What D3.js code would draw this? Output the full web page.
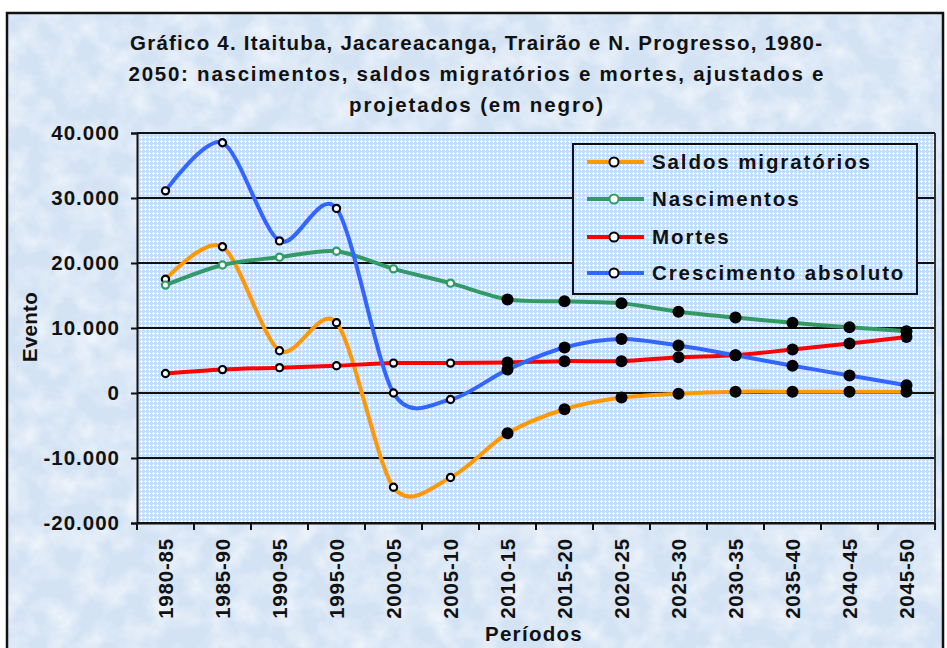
<!DOCTYPE html>
<html><head><meta charset="utf-8">
<script src="https://cdn.jsdelivr.net/npm/d3@7"></script>
<style>
html,body{margin:0;padding:0;background:#fff;}
svg{display:block;font-family:"Liberation Sans",Arial,sans-serif;}
</style></head>
<body><svg id="c" width="947" height="648"></svg>
<script>
// ---- data ----
const periods = ["1980-85","1985-90","1990-95","1995-00","2000-05","2005-10","2010-15","2015-20","2020-25","2025-30","2030-35","2035-40","2040-45","2045-50"];
const saldos = [17500,22500,6500,10800,-14500,-13000,-6200,-2500,-700,-100,200,200,200,200];
const nascimentos = [16600,19700,20900,21800,19100,16900,14400,14100,13800,12500,11600,10800,10100,9500];
const mortes = [3000,3600,3900,4200,4600,4600,4700,4900,4900,5500,5800,6700,7600,8600];
const crescimento = [31100,38500,23400,28400,0,-1000,3600,7000,8300,7300,5800,4200,2700,1200];
const firstProjected = "2010-15";
const yTicks = [-20000,-10000,0,10000,20000,30000,40000];
const titleLines = ["Gráfico 4. Itaituba, Jacareacanga, Trairão e N. Progresso, 1980-",
                    "2050: nascimentos, saldos migratórios e mortes, ajustados e",
                    "projetados (em negro)"];
const seriesNames = ["Saldos migratórios","Nascimentos","Mortes","Crescimento absoluto"];
const seriesValues = [saldos, nascimentos, mortes, crescimento];
const seriesColors = ["#ff9900","#339966","#ff0000","#3366ff"];
const markerStroke = ["#000","#339966","#000","#000"];

const svg = d3.select("#c");
const defs = svg.append("defs");

// background texture
const f = defs.append("filter").attr("id","tex").attr("x",0).attr("y",0).attr("width","100%").attr("height","100%");
f.append("feTurbulence").attr("type","fractalNoise").attr("baseFrequency","0.04").attr("numOctaves",4).attr("seed",7);
f.append("feColorMatrix").attr("type","matrix")
 .attr("values","0 0 0 0 1  0 0 0 0 1  0 0 0 0 1  1.2 0 0 0 -0.45");
f.append("feComposite").attr("in2","SourceGraphic").attr("operator","in");

// plot pattern
const pat = defs.append("pattern").attr("id","grid").attr("width",4).attr("height",4).attr("patternUnits","userSpaceOnUse");
pat.append("rect").attr("width",4).attr("height",4).attr("fill","#c2ddfa");
pat.append("rect").attr("x",0).attr("y",1).attr("width",3).attr("height",1).attr("fill","#f6faff");
pat.append("rect").attr("x",1).attr("y",0).attr("width",1).attr("height",3).attr("fill","#f6faff");

// chart background
svg.append("rect").attr("x",7).attr("y",13).attr("width",936).attr("height",650).attr("fill","#d4e3f4");
svg.append("rect").attr("x",7).attr("y",13).attr("width",936).attr("height",650).attr("fill","#d4e3f4").attr("filter","url(#tex)");
svg.append("rect").attr("x",7).attr("y",13).attr("width",936).attr("height",650).attr("fill","none").attr("stroke","#111").attr("stroke-width",2.5);

// title
svg.append("g").selectAll("text").data(titleLines).join("text")
  .attr("x",476).attr("y",(d,i)=>50+i*31).attr("text-anchor","middle")
  .attr("font-size",20.5).attr("font-weight","bold").attr("fill","#111")
  .attr("textLength",(d,i)=>[692,695,254][i]).attr("lengthAdjust","spacing")
  .text(d=>d);

const L=137,R=935,T=133,B=523;
const x = d3.scaleBand().domain(periods).range([L,R]).padding(0);
const y = d3.scaleLinear().domain([-20000,40000]).range([B,T]);
const cx = p => x(p)+x.bandwidth()/2;

svg.append("rect").attr("x",L).attr("y",T).attr("width",R-L).attr("height",B-T).attr("fill","url(#grid)");

// gridlines
svg.append("g").selectAll("line").data(yTicks).join("line")
  .attr("x1",L).attr("x2",R).attr("y1",d=>y(d)).attr("y2",d=>y(d))
  .attr("stroke","#111").attr("stroke-width",2);
svg.append("line").attr("x1",R).attr("x2",R).attr("y1",T).attr("y2",B).attr("stroke","#333").attr("stroke-width",2);

const loc = d3.formatLocale({decimal:",",thousands:".",grouping:[3],currency:["",""],minus:"-"});
const fmt = loc.format(",d");

// y axis
const yAxis = svg.append("g").attr("transform",`translate(${L},0)`)
  .call(d3.axisLeft(y).tickValues(yTicks).tickFormat(fmt).tickSize(6).tickPadding(11));
yAxis.select(".domain").attr("stroke","#111").attr("stroke-width",2);
yAxis.selectAll(".tick line").attr("stroke","#111").attr("stroke-width",2);
yAxis.selectAll(".tick text").attr("font-size",20.5).attr("font-weight","bold").attr("fill","#111")
  .attr("font-family","Liberation Sans, Arial, sans-serif").attr("letter-spacing",1);

// x axis
const xAxis = svg.append("g").attr("transform",`translate(0,${B})`)
  .call(d3.axisBottom(x).tickSize(0).tickFormat(""));
xAxis.select(".domain").attr("stroke","#111").attr("stroke-width",2);
const bounds = periods.map(p=>x(p)).concat([R]);
svg.append("g").selectAll("line").data(bounds).join("line")
  .attr("x1",d=>d).attr("x2",d=>d).attr("y1",B).attr("y2",B+7).attr("stroke","#111").attr("stroke-width",2);
svg.append("g").selectAll("text").data(periods).join("text")
  .attr("transform",d=>`translate(${cx(d)+7},538) rotate(-90)`)
  .attr("text-anchor","end").attr("font-size",20.5).attr("font-weight","bold").attr("fill","#111")
  .attr("letter-spacing",0.8).text(d=>d);

// axis titles
svg.append("text").attr("transform","translate(37,327) rotate(-90)").attr("text-anchor","middle")
  .attr("font-size",20.5).attr("font-weight","bold").attr("fill","#111").attr("letter-spacing",0.3).text("Evento");
svg.append("text").attr("x",534).attr("y",641).attr("text-anchor","middle")
  .attr("font-size",20.5).attr("font-weight","bold").attr("fill","#111").attr("letter-spacing",1.3).text("Períodos");

// lines
const line = d3.line().x((d,i)=>cx(periods[i])).y(d=>y(d)).curve(d3.curveCardinal.tension(0.12));
const projIdx = periods.indexOf(firstProjected);
seriesValues.forEach((vals,s)=>{
  svg.append("path").datum(vals).attr("d",line).attr("fill","none")
    .attr("stroke",seriesColors[s]).attr("stroke-width",4).attr("stroke-linejoin","round");
});
seriesValues.forEach((vals,s)=>{
  const g = svg.append("g");
  g.selectAll("circle").data(vals).join("circle")
    .attr("cx",(d,i)=>cx(periods[i])).attr("cy",d=>y(d))
    .attr("r",(d,i)=>i>=projIdx?6:3.6)
    .attr("fill",(d,i)=>i>=projIdx?"#000":"#fff")
    .attr("stroke",(d,i)=>i>=projIdx?"#000":markerStroke[s])
    .attr("stroke-width",(d,i)=>i>=projIdx?0:2.2);
});

// legend
const lg = svg.append("g");
lg.append("rect").attr("x",573).attr("y",144).attr("width",344).attr("height",150)
  .attr("fill","url(#grid)").attr("stroke","#111").attr("stroke-width",2);
const ly = [162,199,237,273];
seriesNames.forEach((n,s)=>{
  lg.append("line").attr("x1",587).attr("x2",644).attr("y1",ly[s]).attr("y2",ly[s])
    .attr("stroke",seriesColors[s]).attr("stroke-width",4);
  lg.append("circle").attr("cx",614).attr("cy",ly[s]).attr("r",4.5).attr("fill","#fff")
    .attr("stroke",markerStroke[s]).attr("stroke-width",2);
  lg.append("text").attr("x",652).attr("y",ly[s]).attr("dy","0.35em").attr("font-size",20.5)
    .attr("font-weight","bold").attr("fill","#111").attr("letter-spacing",1.9).text(n);
});
</script></body></html>
